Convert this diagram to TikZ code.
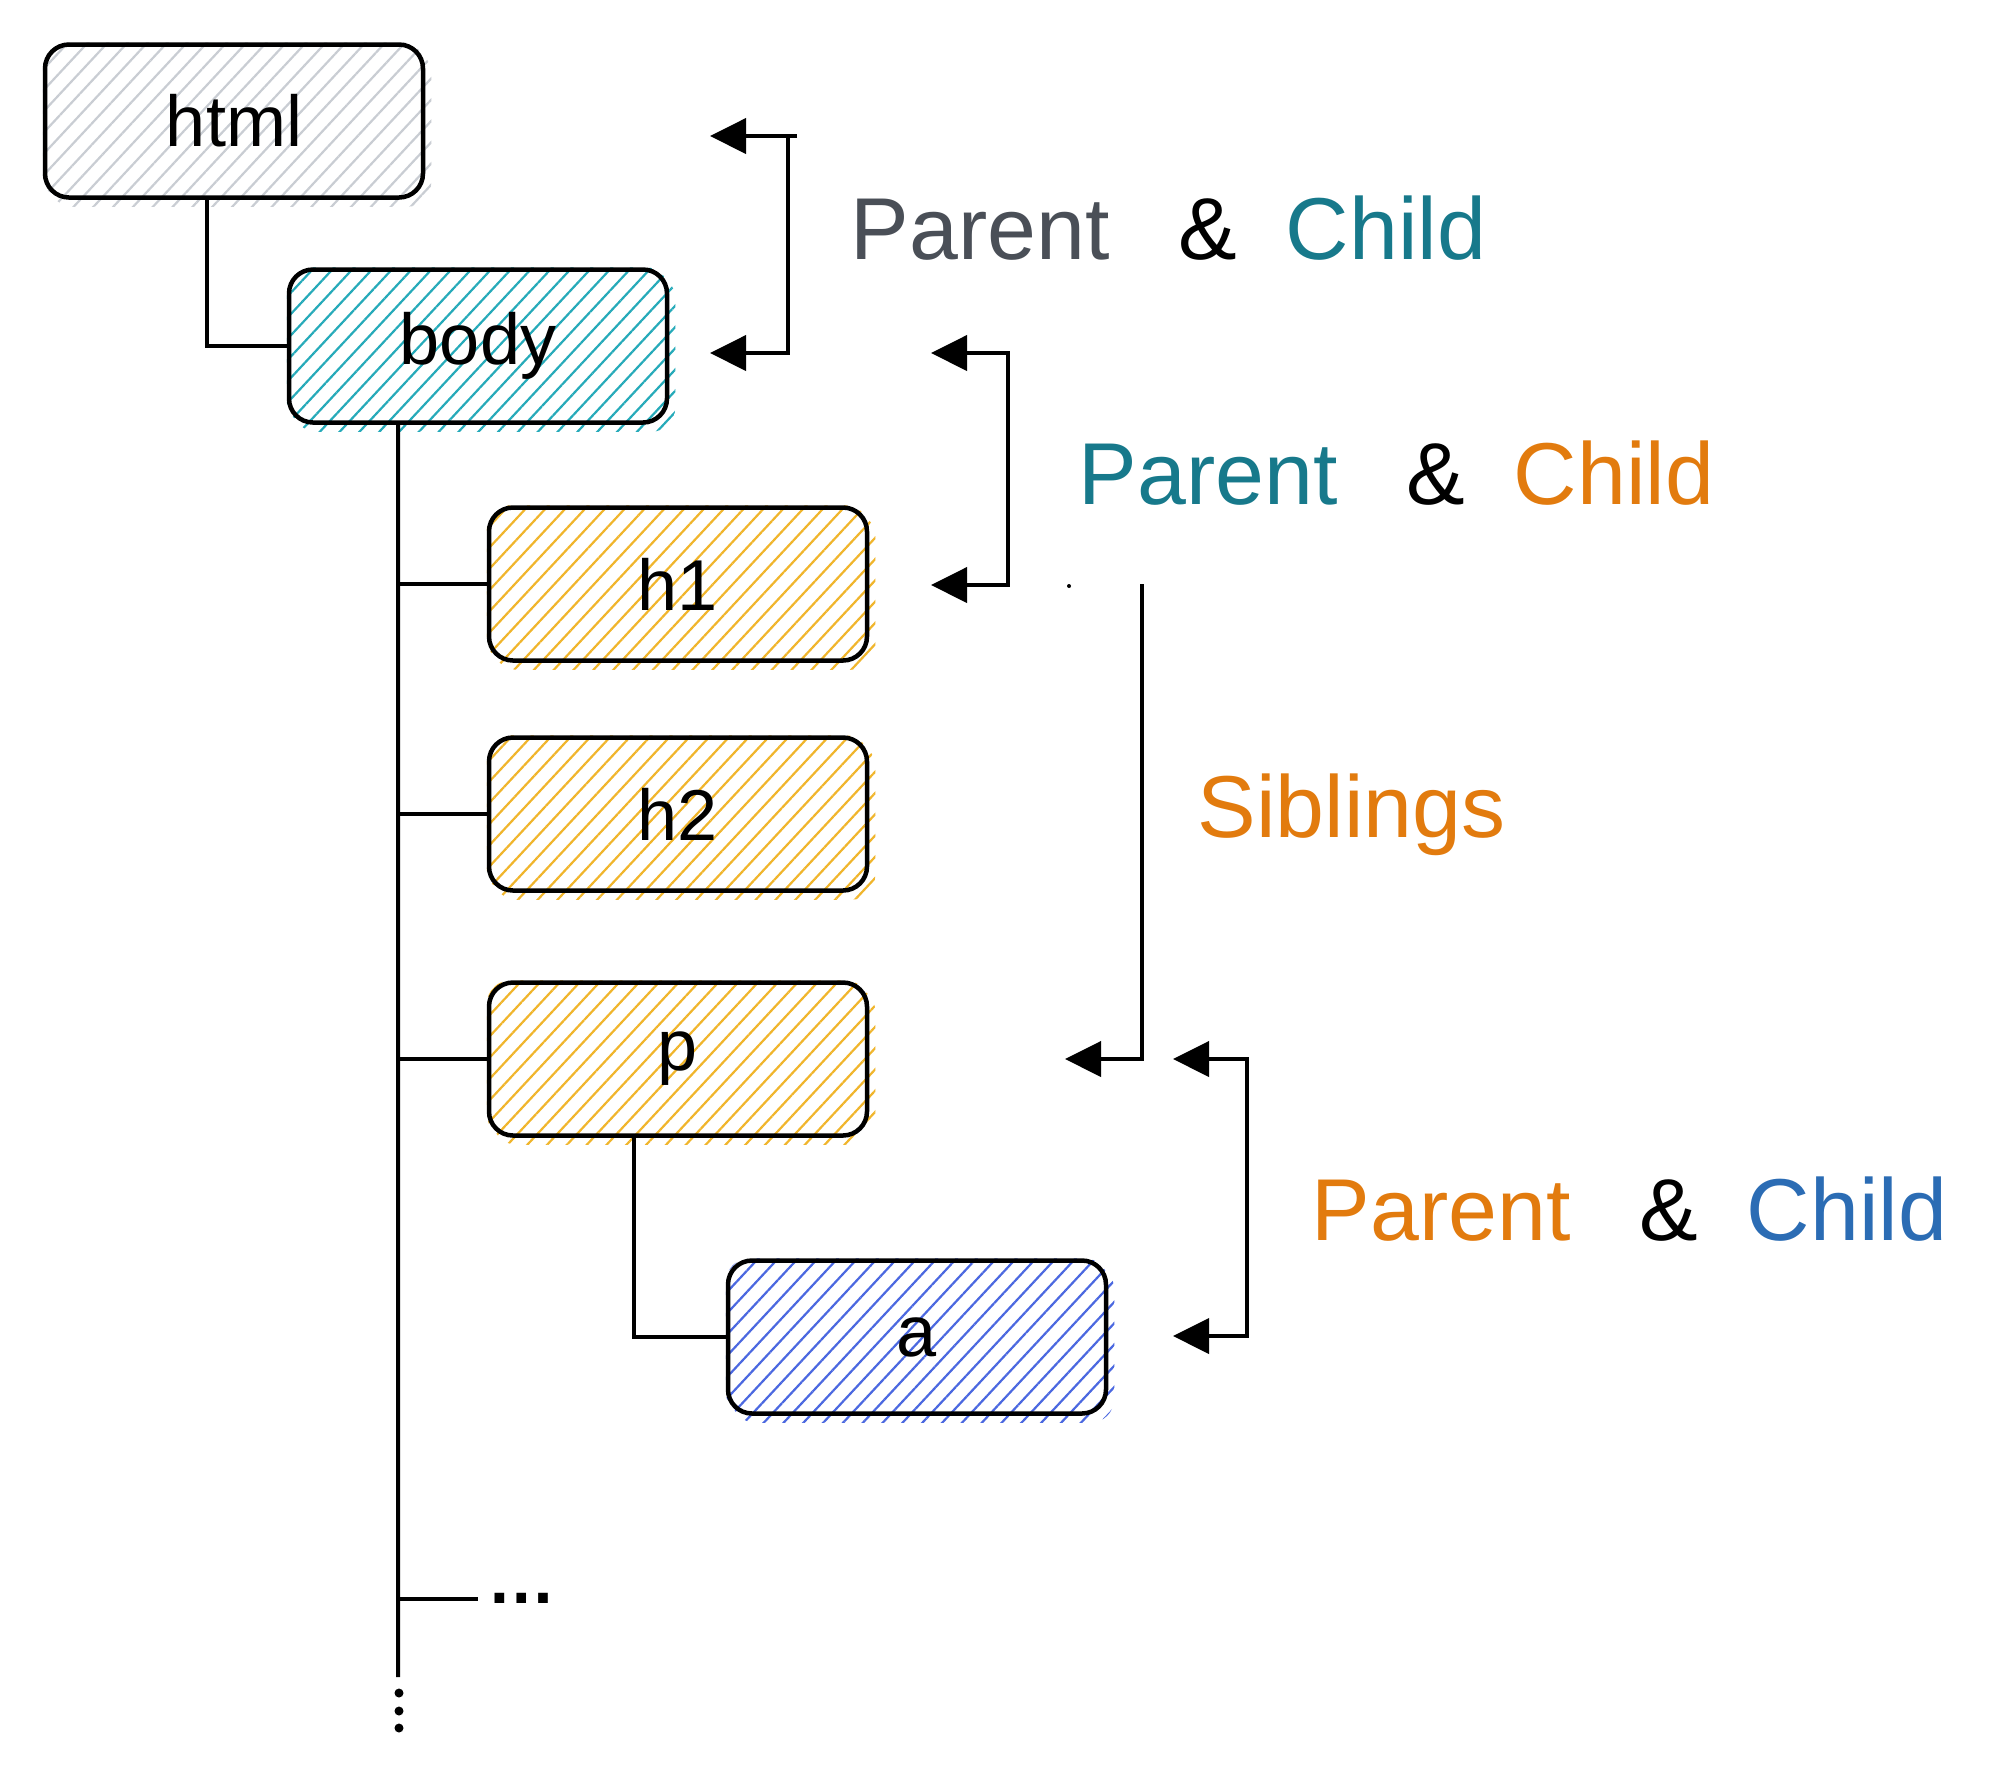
\documentclass[tikz,border=0pt]{standalone}
\usepackage{fontspec}
\setmainfont{Liberation Sans}
\usetikzlibrary{arrows.meta, patterns.meta, backgrounds}

\definecolor{hgray}{HTML}{C9CDD3}
\definecolor{hteal}{HTML}{26AAB9}
\definecolor{hyellow}{HTML}{F0B52C}
\definecolor{hblue}{HTML}{4B68E0}
\definecolor{tgray}{HTML}{4A4F57}
\definecolor{tteal}{HTML}{17798B}
\definecolor{torange}{HTML}{E27B0E}
\definecolor{tblue}{HTML}{2B6CB4}

\newcommand{\pcpair}[2]{\textcolor{#1}{Parent}\hspace{19.5pt}\&\hspace{14pt}\textcolor{#2}{Child}}

\tikzset{
  hatch/.style={pattern={Lines[angle=47,distance=1.45mm,line width=0.22mm]},
    pattern color=#1, rounded corners=2.4mm},
  elem/.style={draw, line width=0.45mm, rounded corners=2.4mm, minimum width=3.78cm,
    minimum height=1.53cm, inner sep=0pt, font=\fontsize{20.5}{24}\selectfont},
  conn/.style={line width=0.4mm},
  rel/.style={anchor=base west, inner sep=0pt, font=\fontsize{25}{30}\selectfont}
}

\begin{document}
\begin{tikzpicture}[>={Triangle[length=3.6mm,width=3.5mm]}]
  \useasboundingbox (0,0) rectangle (20,-17.74);
  % --- the tree of tags ---
  \node[elem] (html) at (2.34,-1.21)  {html};
  \node[elem] (body) at (4.78,-3.46)  {body};
  \node[elem] (h1)   at (6.78,-5.84)  {h1};
  \node[elem] (h2)   at (6.78,-8.14)  {h2};
  \node[elem] (p)    at (6.78,-10.59) {p};
  \node[elem] (a)    at (9.17,-13.37) {a};
  % hatching, running a little past the boxes
  \begin{scope}[on background layer]
    \foreach \n/\c in {html/hgray, body/hteal, h1/hyellow, h2/hyellow, p/hyellow, a/hblue}
      \path[hatch=\c] (\n.north west) rectangle (\n.south east)
        ([shift={(0.6mm,-0.7mm)}]\n.north west) rectangle ([shift={(0.6mm,-0.7mm)}]\n.south east);
  \end{scope}

  \coordinate (trunk) at (3.98,-16.77);
  \coordinate (more) at (4.78,-15.99);
  \draw[conn] ([xshift=-2.7mm]html.south) |- (body.west);
  \draw[conn] ([xshift=-8mm]body.south) -- (trunk);
  \foreach \n in {h1,h2,p}
    \draw[conn] (\n.west -| trunk) -- (\n.west);
  \draw[conn] (more -| trunk) -- (more);
  \node[anchor=base west, inner sep=0pt, font=\bfseries\fontsize{19.5}{22}\selectfont] (dots) at (4.87,-16.03) {…};
  \foreach \y in {16.93,17.11,17.28}
    \fill (3.99,-\y) circle (0.45mm);
  \draw[conn] ([xshift=-4.4mm]p.south) |- (a.west);

  % --- brackets ---
  \coordinate (b1t) at (7.10,-1.36);  \coordinate (b1b) at (7.10,-3.53);
  \coordinate (b2t) at (9.31,-3.53);  \coordinate (b2b) at (9.31,-5.85);
  \coordinate (sibt) at (11.42,-5.84); \coordinate (sibb) at (10.65,-10.59);
  \coordinate (b3t) at (11.73,-10.59); \coordinate (b3b) at (11.73,-13.36);
  \draw[conn,->] ([xshift=8.7mm]b1t) -- (b1t);
  \draw[conn,->] ([xshift=7.8mm]b1t) |- (b1b);
  \draw[conn,<->] (b2t) -- ++(0.77,0) |- (b2b);
  \draw[conn,->] (sibt) |- (sibb);
  \fill (10.69,-5.86) circle (0.2mm);
  \draw[conn,<->] (b3t) -- ++(0.74,0) |- (b3b);

  % --- labels ---
  \node[rel] (pc1) at (8.50,-2.59)  {\pcpair{tgray}{tteal}};
  \node[rel] (pc2) at (10.78,-5.04) {\pcpair{tteal}{torange}};
  \node[rel, text=torange] (sib) at (11.97,-8.37) {Siblings};
  \node[rel] (pc3) at (13.11,-12.40) {\pcpair{torange}{tblue}};
\end{tikzpicture}
\end{document}
